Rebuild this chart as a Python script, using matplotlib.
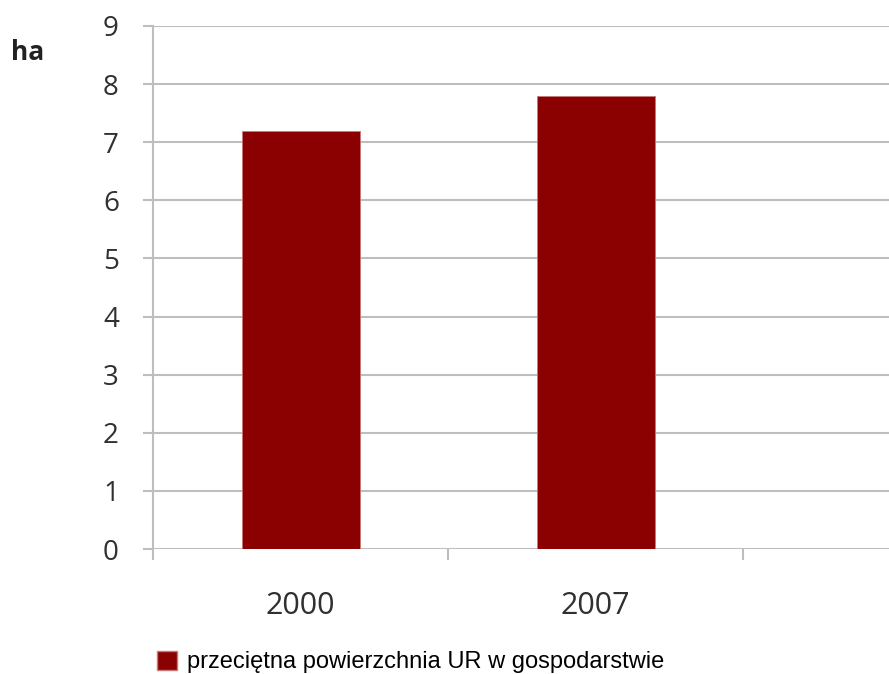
import matplotlib.pyplot as plt
from matplotlib.patches import Patch

years = ['2000', '2007']
area_ha = [7.2, 7.8]
legend_label = 'przeciętna powierzchnia UR w gospodarstwie'
y_ticks = list(range(0, 10))

bar_color = '#8B0000'
grid_color = '#BEBEBE'

fig = plt.figure(figsize=(8.89, 6.74), dpi=100)
ax = fig.add_axes([153 / 889, 1 - 549 / 674, 1 - 153 / 889, (549 - 26) / 674])

x = list(range(len(years)))
ax.bar(x, area_ha, width=0.4, color=bar_color, edgecolor='#C87878', linewidth=0.6, zorder=3)

ax.set_xlim(-0.5, -0.5 + (889 - 153) / 295)
ax.set_ylim(0, 9)
ax.set_yticks(y_ticks)
ax.set_yticklabels([str(v) for v in y_ticks], fontsize=20, color='#303030', family='Open Sans')
ax.yaxis.grid(True, color=grid_color, linewidth=1.5, zorder=0)
ax.tick_params(axis='y', length=7.5, width=1.5, color=grid_color, pad=17)

ax.set_xticks(x)
ax.set_xticklabels(years, fontsize=22, color='#303030', family='Open Sans')
ax.set_xticks([-0.5, 0.5, 1.5], minor=True)
ax.tick_params(axis='x', which='major', length=0, pad=30)
ax.tick_params(axis='x', which='minor', length=8, width=1.5, color=grid_color)

for s in ['top', 'right', 'bottom']:
    ax.spines[s].set_visible(False)
ax.spines['left'].set_color(grid_color)
ax.spines['left'].set_linewidth(1.5)

fig.text(11 / 889, 1 - 52 / 674, 'ha', fontsize=19, fontweight='bold', color='#222222',
         va='center', ha='left', family='Open Sans')

fig.legend(handles=[Patch(facecolor=bar_color, edgecolor='#C87878', label=legend_label)],
           loc='center left', bbox_to_anchor=(157 / 889, 1 - 662 / 674), frameon=False,
           prop={'family': 'Liberation Sans', 'size': 17}, handlelength=0.85, handleheight=0.85,
           handletextpad=0.4, borderpad=0, borderaxespad=0)

fig.savefig('out.png', dpi=100)
